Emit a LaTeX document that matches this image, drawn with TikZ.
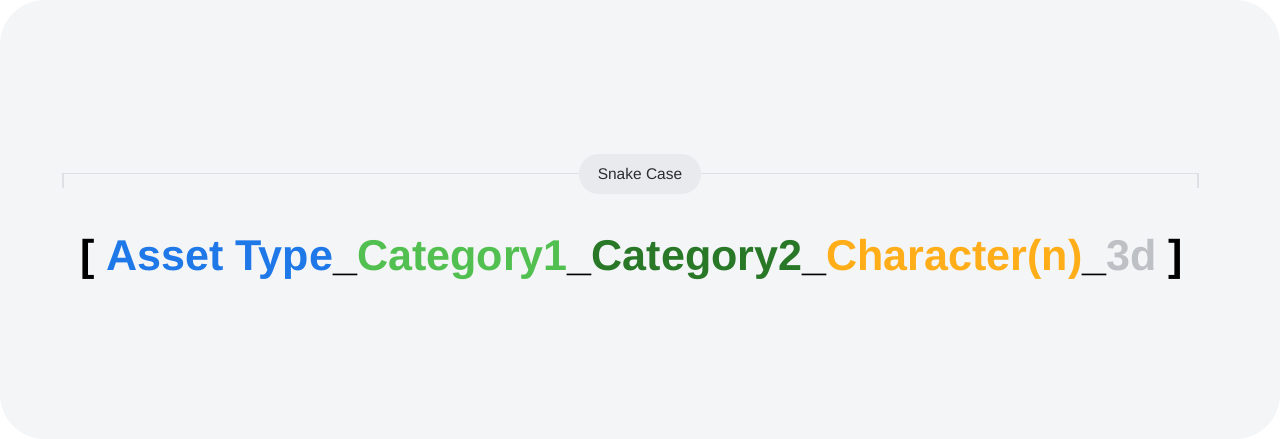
\documentclass[tikz,border=0pt]{standalone}
\usepackage{fontspec}
\setmainfont{Liberation Sans}
\definecolor{bgc}{HTML}{F4F5F7}
\definecolor{pillc}{HTML}{E8EAED}
\definecolor{linec}{HTML}{DFE0E6}
\definecolor{cblue}{HTML}{1E78E8}
\definecolor{cgreen}{HTML}{52C050}
\definecolor{cdkgreen}{HTML}{287828}
\definecolor{corange}{HTML}{FFAE1A}
\definecolor{cgray}{HTML}{BDC1C6}
\definecolor{ctext}{HTML}{2A2D31}
\tikzset{
  pill/.style={fill=pillc, rounded corners=20pt, minimum width=122pt, minimum height=40pt, inner sep=0pt, font=\fontsize{15.5}{18}\selectfont, text=ctext},
  rule/.style={draw=linec, line width=1.4pt},
  title/.style={inner sep=0pt, anchor=base west, font=\bfseries\fontsize{48}{56}\selectfont}
}
\begin{document}
\begin{tikzpicture}[x=1pt,y=-1pt]
\useasboundingbox (0,0) rectangle (1280,439);
\fill[white] (0,0) rectangle (1280,439);
\fill[bgc, rounded corners=45pt] (0,0) rectangle (1280,439);
\coordinate (l0) at (63,188);
\coordinate (l1) at (63,173.5);
\coordinate (r1) at (1198,173.5);
\coordinate (r0) at (1198,188);
\draw[rule] (l0) -- (l1) -- (r1) -- (r0);
\node[pill] (p) at (640,174) {Snake Case};
\node[title] (t) at (80,270) {\resizebox{1103pt}{!}{[ \textcolor{cblue}{Asset Type}\_\textcolor{cgreen}{Category1}\_\textcolor{cdkgreen}{Category2}\_\textcolor{corange}{Character(n)}\_\textcolor{cgray}{3d} ]}};
\end{tikzpicture}
\end{document}
